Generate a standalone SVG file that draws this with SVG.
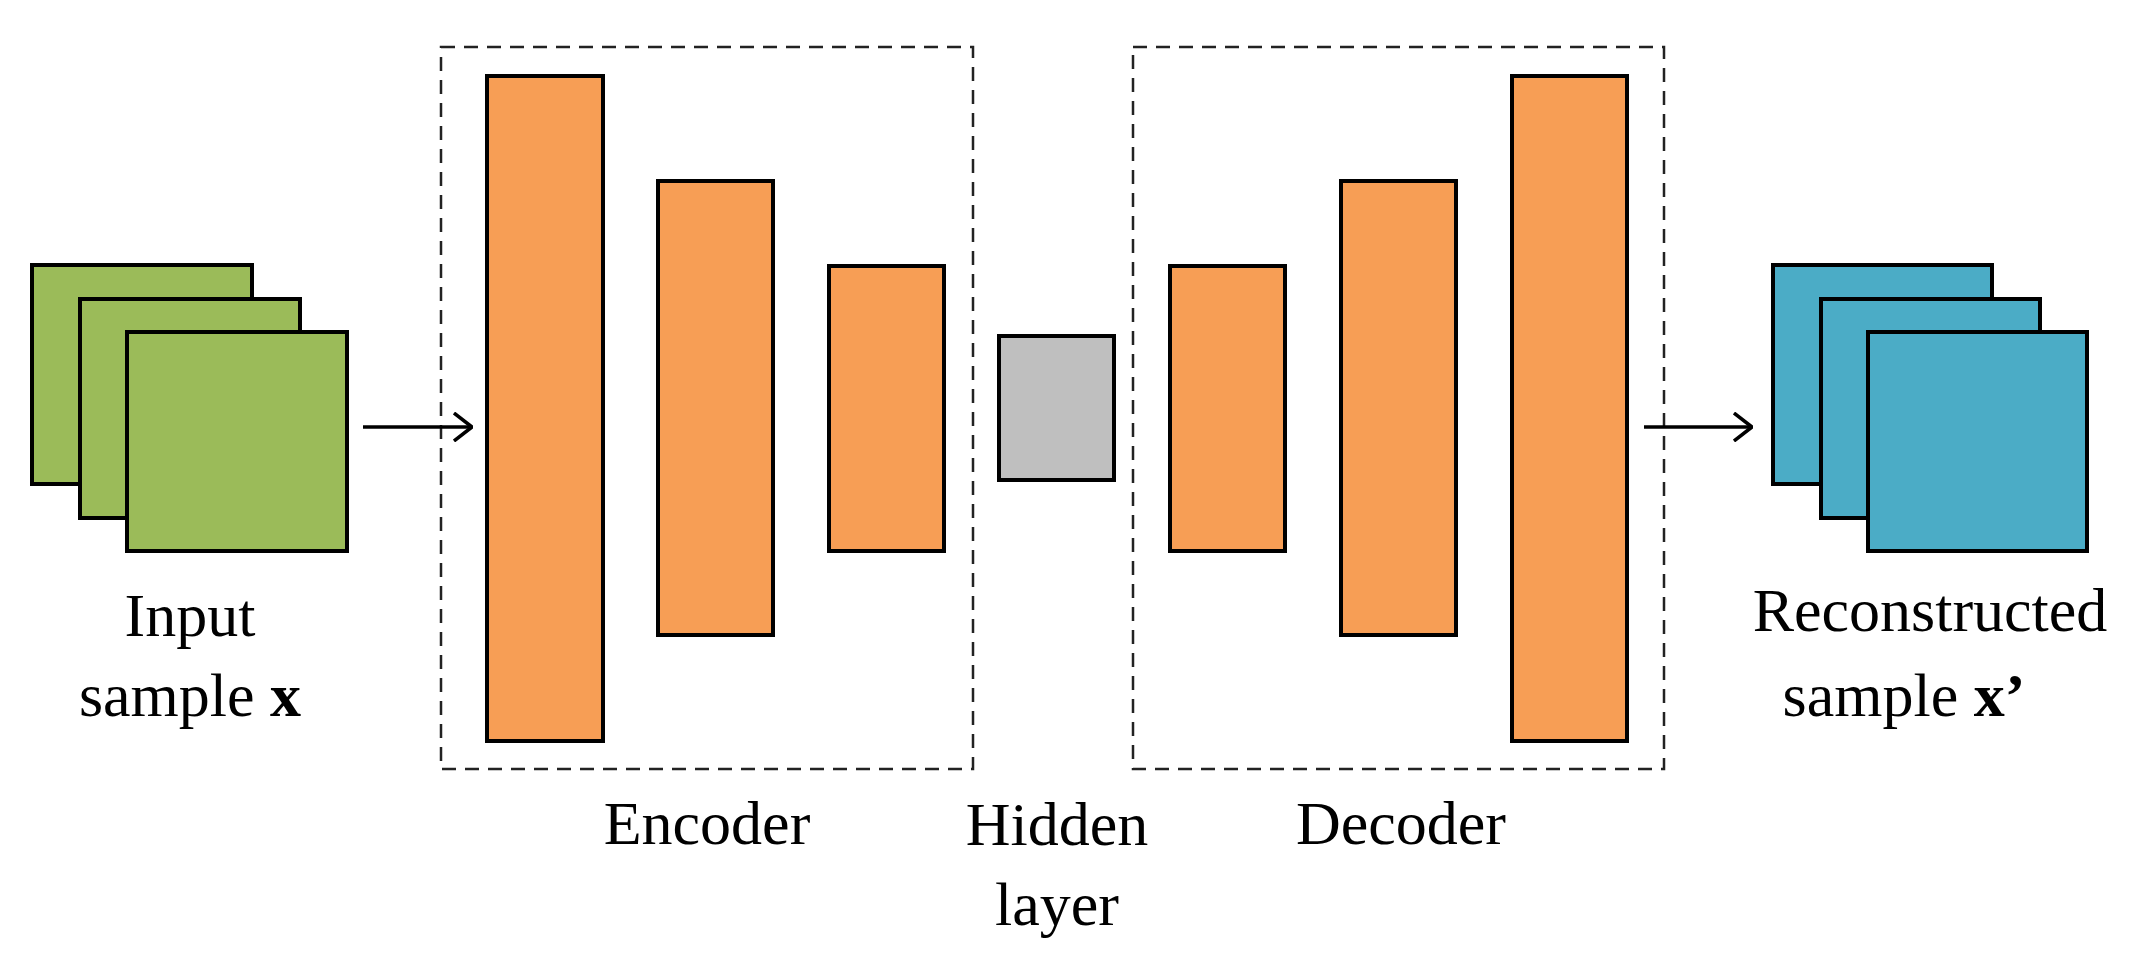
<svg xmlns="http://www.w3.org/2000/svg" width="2149" height="980" viewBox="0 0 2149 980">
<defs>
<style>
.b{stroke:#000;stroke-width:4}
.g{fill:#9BBB59}.o{fill:#F79E55}.h{fill:#BFBFBF}.c{fill:#4BACC6}
.d{fill:none;stroke:#222;stroke-width:2.5;stroke-dasharray:14 9}
.t{font-family:"Liberation Serif",serif;font-size:62px;fill:#000;text-anchor:middle}
.a{stroke:#000;stroke-width:3.5;fill:none}
</style>
<marker id="arr" viewBox="0 0 20 30" refX="19" refY="15" markerWidth="20" markerHeight="30" markerUnits="userSpaceOnUse" orient="auto"><path d="M1 1 L19 15 L1 29" fill="none" stroke="#000" stroke-width="3.5"/></marker>
</defs>
<rect width="2149" height="980" fill="#fff"/>
<g id="encoder-box"><rect class="d" x="441" y="47" width="532" height="722"/><text class="t" x="707" y="844">Encoder</text></g>
<g id="decoder-box"><rect class="d" x="1133" y="47" width="531" height="722"/><text class="t" x="1401" y="844">Decoder</text></g>
<g id="input">
<rect class="b g" x="32" y="265" width="220" height="219"/>
<rect class="b g" x="80" y="299" width="220" height="219"/>
<rect class="b g" x="127" y="332" width="220" height="219"/>
<text class="t" x="190" y="636">Input</text>
<text class="t" x="190" y="716">sample <tspan font-weight="bold">x</tspan></text>
</g>
<g id="enc1"><rect class="b o" x="487" y="76" width="116" height="665"/></g>
<g id="enc2"><rect class="b o" x="658" y="181" width="115" height="454"/></g>
<g id="enc3"><rect class="b o" x="829" y="266" width="115" height="285"/></g>
<g id="hidden"><rect class="b h" x="999" y="336" width="115" height="144"/>
<text class="t" x="1057" y="845">Hidden</text><text class="t" x="1057" y="925">layer</text></g>
<g id="dec1"><rect class="b o" x="1170" y="266" width="115" height="285"/></g>
<g id="dec2"><rect class="b o" x="1341" y="181" width="115" height="454"/></g>
<g id="dec3"><rect class="b o" x="1512" y="76" width="115" height="665"/></g>
<g id="output">
<rect class="b c" x="1773" y="265" width="219" height="219"/>
<rect class="b c" x="1821" y="299" width="219" height="219"/>
<rect class="b c" x="1868" y="332" width="219" height="219"/>
<text class="t" x="1930" y="631">Reconstructed</text>
<text class="t" x="1904" y="716">sample <tspan font-weight="bold">x’</tspan></text>
</g>
<g id="connectors">
<line class="a" x1="363" y1="427" x2="472" y2="427" marker-end="url(#arr)"/>
<line class="a" x1="1644" y1="427" x2="1752" y2="427" marker-end="url(#arr)"/>
</g>
</svg>
